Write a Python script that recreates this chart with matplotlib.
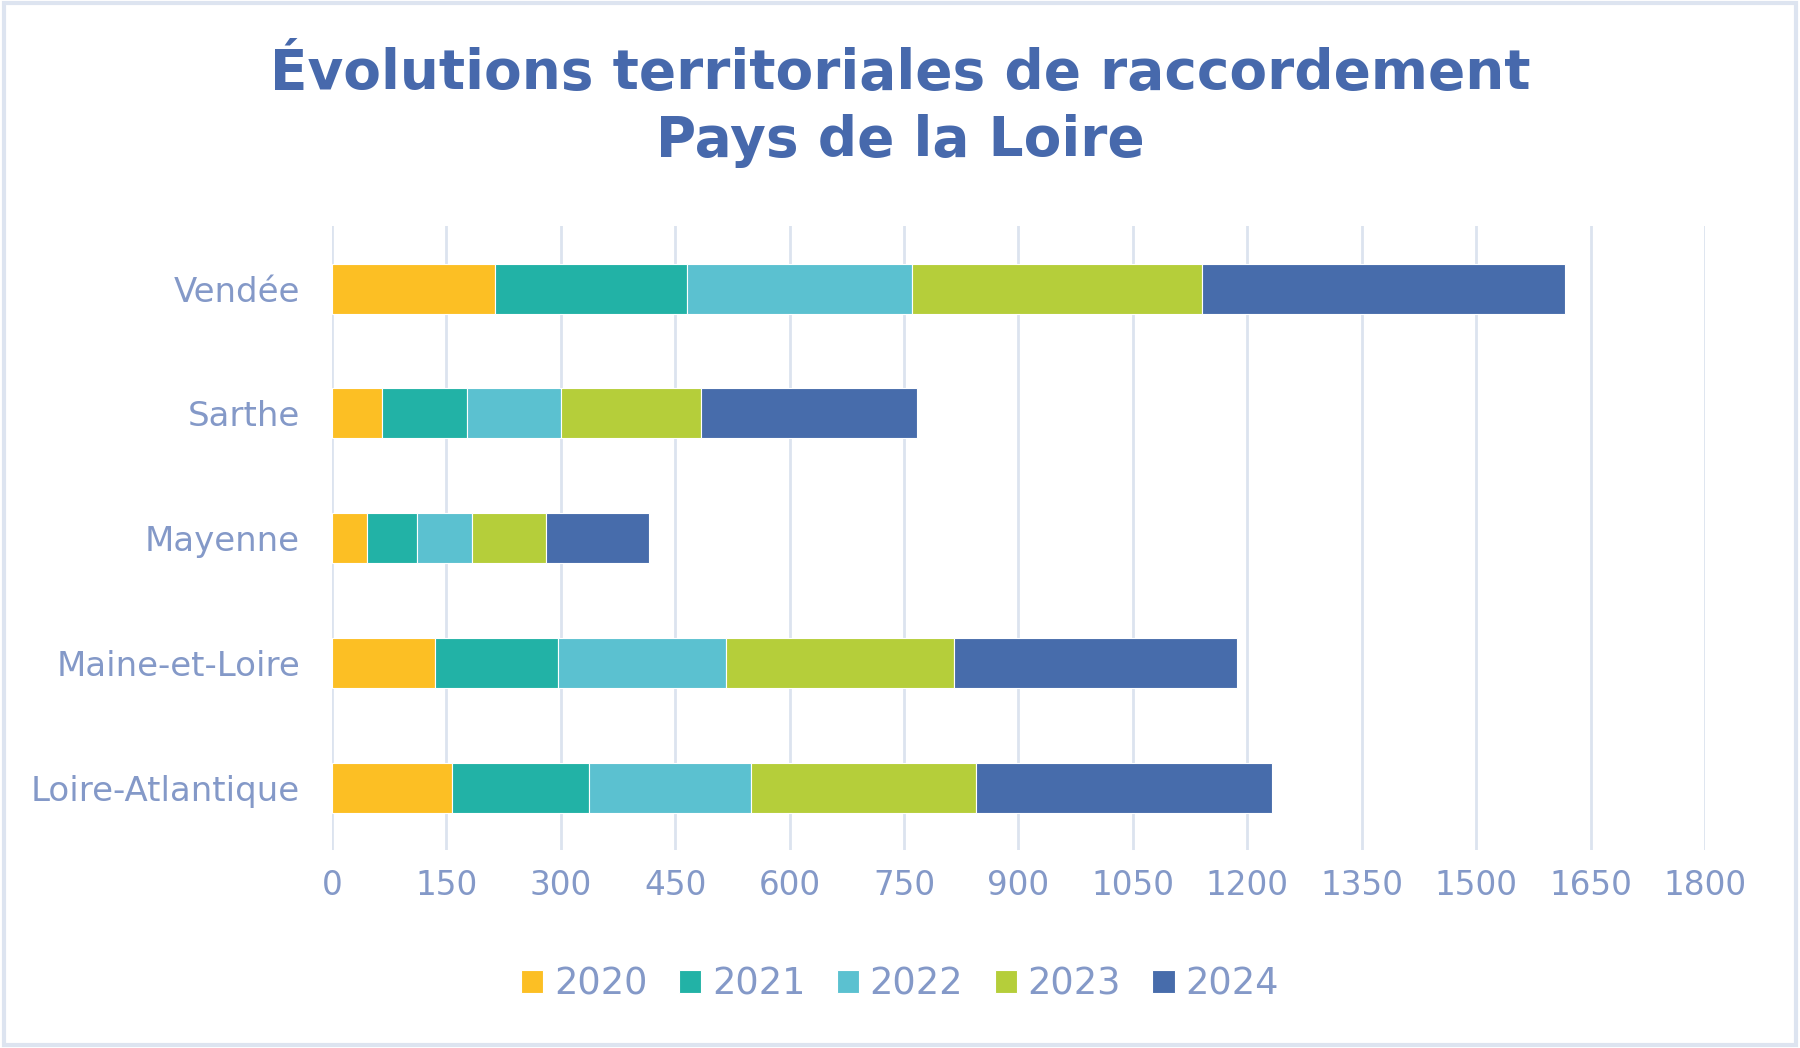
import matplotlib.pyplot as plt
import numpy as np

departements = ['Loire-Atlantique', 'Maine-et-Loire', 'Mayenne', 'Sarthe', 'Vendée']
annees = ['2020', '2021', '2022', '2023', '2024']

v2020 = [158, 135, 46, 66, 214]
v2021 = [179, 161, 65, 111, 251]
v2022 = [212, 220, 73, 123, 296]
v2023 = [296, 300, 97, 184, 379]
v2024 = [388, 371, 135, 283, 477]

couleurs = ['#FCBF24', '#22B2A6', '#5BC1D0', '#B5CE3A', '#476CAB']
bleu_titre = '#4769AC'
bleu_texte = '#8499C8'

series = [v2020, v2021, v2022, v2023, v2024]

fig = plt.figure(figsize=(18, 10.48), dpi=100)
ax = fig.add_axes([0.1844, 0.189, 0.7628, 0.595])

y = np.arange(len(departements))
gauche = np.zeros(len(departements))
for annee, vals, c in zip(annees, series, couleurs):
    ax.barh(y, vals, left=gauche, height=0.4, color=c, label=annee,
            edgecolor='white', linewidth=0.8, zorder=3)
    gauche += np.array(vals)

ax.set_xlim(0, 1800)
ax.set_ylim(-0.5, len(departements) - 0.5)
ax.set_xticks(np.arange(0, 1801, 150))
ax.set_yticks(y)
ax.set_yticklabels(departements)
ax.tick_params(axis='both', length=0, labelcolor=bleu_texte)
ax.tick_params(axis='x', pad=14, labelsize=23.5)
ax.tick_params(axis='y', pad=23, labelsize=24.5)
ax.grid(axis='x', color='#DCE3EF', linewidth=2, zorder=0)
for s in ax.spines.values():
    s.set_visible(False)

fig.text(0.5, 0.929, 'Évolutions territoriales de raccordement', ha='center', va='center',
         fontsize=39.5, fontweight='bold', color=bleu_titre)
fig.text(0.5, 0.865, 'Pays de la Loire', ha='center', va='center',
         fontsize=39.5, fontweight='bold', color=bleu_titre)

leg = fig.legend(loc='center', bbox_to_anchor=(0.5, 0.061), ncol=5, frameon=False,
                 fontsize=26.5, handlelength=0.6, handleheight=0.6, handletextpad=0.3,
                 columnspacing=0.85)
for t in leg.get_texts():
    t.set_color(bleu_texte)

# cadre léger autour du graphique
fig.patches.append(plt.Rectangle((0.002, 0.003), 0.996, 0.994, transform=fig.transFigure,
                                 fill=False, edgecolor='#DDE4F0', linewidth=3))

fig.savefig('out.png', dpi=100, facecolor='white')
